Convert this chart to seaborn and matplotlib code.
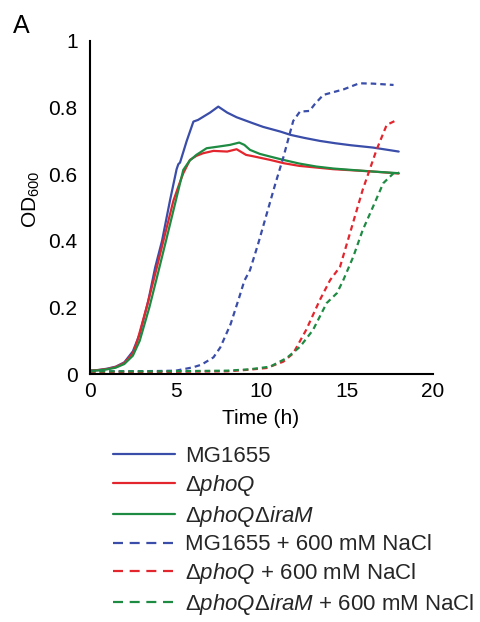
import matplotlib
matplotlib.use("Agg")
import matplotlib.pyplot as plt
from matplotlib.lines import Line2D
import seaborn as sns

# ── data ────────────────────────────────────────────────────────────────────
mg_t = [0, 0.5, 1, 1.5, 2, 2.5, 2.9, 3.4, 3.8, 4.2, 4.66, 5.05, 5.15, 5.25,
        5.64, 6.03, 6.3, 7.0, 7.48, 8.0, 8.55, 9.5, 10.1, 11.1, 11.7, 12.5,
        13.4, 14.3, 15.2, 16.5, 18]
mg_od = [0.01, 0.012, 0.016, 0.022, 0.035, 0.068, 0.12, 0.22, 0.32, 0.40,
         0.52, 0.615, 0.63, 0.635, 0.70, 0.758, 0.763, 0.785, 0.803, 0.785,
         0.771, 0.753, 0.742, 0.728, 0.718, 0.709, 0.70, 0.693, 0.687, 0.68,
         0.668]

phoq_t = [0, 0.5, 1, 1.5, 2, 2.5, 2.76, 3.3, 3.8, 4.28, 4.86, 5.2, 5.44, 5.83,
          6.2, 6.6, 7.2, 8.0, 8.55, 9.1, 9.5, 10.5, 11.3, 12.2, 13.2, 14.2,
          15.2, 16.5, 18]
phoq_od = [0.01, 0.012, 0.015, 0.021, 0.033, 0.062, 0.10, 0.20, 0.30, 0.40,
           0.52, 0.57, 0.603, 0.643, 0.655, 0.663, 0.67, 0.668, 0.675, 0.658,
           0.654, 0.643, 0.633, 0.625, 0.62, 0.615, 0.612, 0.608, 0.602]

iram_t = [0, 0.5, 1, 1.5, 2, 2.5, 2.9, 3.46, 3.95, 4.43, 5.0, 5.44, 5.8, 6.2,
          6.8, 7.5, 8.16, 8.7, 9.0, 9.33, 9.9, 10.5, 11.27, 12.2, 13.2, 14.2,
          15.2, 16.5, 18]
iram_od = [0.01, 0.011, 0.014, 0.019, 0.03, 0.055, 0.10, 0.20, 0.30, 0.40,
           0.52, 0.613, 0.64, 0.658, 0.678, 0.683, 0.688, 0.695, 0.688, 0.673,
           0.661, 0.653, 0.643, 0.632, 0.623, 0.617, 0.613, 0.608, 0.603]

mg_salt_t = [0, 2, 4, 5, 5.5, 6, 6.5, 7.2, 7.6, 8.2, 8.7, 9.0, 9.33, 9.8,
             10.3, 10.8, 11.27, 11.85, 12.24, 12.8, 13.1, 13.6, 14.8, 15.7,
             16.5, 17.7]
mg_salt_od = [0.008, 0.008, 0.009, 0.01, 0.015, 0.02, 0.028, 0.05, 0.08,
              0.15, 0.23, 0.28, 0.312, 0.39, 0.48, 0.57, 0.65, 0.76, 0.788,
              0.79, 0.81, 0.838, 0.855, 0.873, 0.872, 0.868]

phoq_salt_t = [0, 4, 8, 9.3, 10.3, 11.27, 11.85, 12.6, 13.4, 14.0, 14.58,
               15.16, 15.9, 16.7, 17.3, 17.9]
phoq_salt_od = [0.005, 0.006, 0.008, 0.013, 0.018, 0.037, 0.062, 0.132,
                0.222, 0.282, 0.322, 0.423, 0.553, 0.672, 0.748, 0.763]

iram_salt_t = [0, 4, 8, 9.3, 10.5, 11.47, 12.25, 13.0, 13.8, 14.4, 14.77,
               15.35, 15.9, 16.5, 17.1, 17.7, 18]
iram_salt_od = [0.008, 0.008, 0.01, 0.014, 0.022, 0.048, 0.082, 0.132,
                0.213, 0.243, 0.282, 0.352, 0.432, 0.502, 0.573, 0.603, 0.605]

labels = [
    "MG1655",
    r"$\mathrm{Δ}\mathit{phoQ}$",
    r"$\mathrm{Δ}\mathit{phoQ}\mathrm{Δ}\mathit{iraM}$",
    "MG1655 + 600 mM NaCl",
    r"$\mathrm{Δ}\mathit{phoQ}$ + 600 mM NaCl",
    r"$\mathrm{Δ}\mathit{phoQ}\mathrm{Δ}\mathit{iraM}$ + 600 mM NaCl",
]

x_ticks = [0, 5, 10, 15, 20]
y_ticks = [0, 0.2, 0.4, 0.6, 0.8, 1.0]
y_ticklabels = ["0", "0.2", "0.4", "0.6", "0.8", "1"]

# ── style ───────────────────────────────────────────────────────────────────
sns.set_style("white")
plt.rcParams["font.family"] = ["Liberation Sans", "DejaVu Sans"]
plt.rcParams["mathtext.fontset"] = "custom"
plt.rcParams["mathtext.rm"] = "Liberation Sans"
plt.rcParams["mathtext.it"] = "Liberation Sans:italic"

BLUE = "#3A4DA8"
RED = "#E3262E"
GREEN = "#1E8B43"
LW = 1.6
PLOT_DASH = (0, (2.5, 1.8))
LEG_DASH = (0, (4.5, 3.0))

series = [
    (mg_t, mg_od, BLUE, "-"),
    (phoq_t, phoq_od, RED, "-"),
    (iram_t, iram_od, GREEN, "-"),
    (mg_salt_t, mg_salt_od, BLUE, PLOT_DASH),
    (phoq_salt_t, phoq_salt_od, RED, PLOT_DASH),
    (iram_salt_t, iram_salt_od, GREEN, PLOT_DASH),
]

fig = plt.figure(figsize=(4.8, 6.22), dpi=100)
ax = fig.add_axes([90 / 480, 1 - 374 / 622, 343 / 480, 333 / 622])

for t, od, color, ls in series:
    sns.lineplot(x=t, y=od, color=color, linestyle=ls, linewidth=LW, ax=ax)

ax.set_xlim(0, 20)
ax.set_ylim(0, 1)
ax.set_xticks(x_ticks)
ax.set_yticks(y_ticks)
ax.set_yticklabels(y_ticklabels)
for side in ("top", "right"):
    ax.spines[side].set_visible(False)
for side in ("left", "bottom"):
    ax.spines[side].set_color("black")
    ax.spines[side].set_linewidth(1.5)
ax.tick_params(axis="both", direction="in", length=5, width=1.3,
               color="black", labelsize=15, labelcolor="black")
ax.tick_params(axis="y", pad=9)
ax.tick_params(axis="x", pad=6)

ax.set_xlabel("Time (h)", fontsize=15, color="black")
ax.set_ylabel(r"OD$_{600}$", fontsize=15, color="black")
ax.xaxis.set_label_coords(0.496, -0.106)
ax.yaxis.set_label_coords(-0.14, 0.525)

fig.text(13 / 480, 1 - 33 / 622, "A", fontsize=18, va="baseline",
         ha="left", color="black")

handles = [Line2D([], [], color=c, linewidth=LW,
                  linestyle="-" if ls == "-" else LEG_DASH)
           for _, _, c, ls in series]
fig.legend(handles, labels, loc="upper left",
           bbox_to_anchor=(113 / 480, 1 - 446 / 622), frameon=False,
           fontsize=16, handlelength=2.8, handletextpad=0.45,
           labelspacing=0.26, borderpad=0, borderaxespad=0)

fig.savefig("out.png", dpi=100)
